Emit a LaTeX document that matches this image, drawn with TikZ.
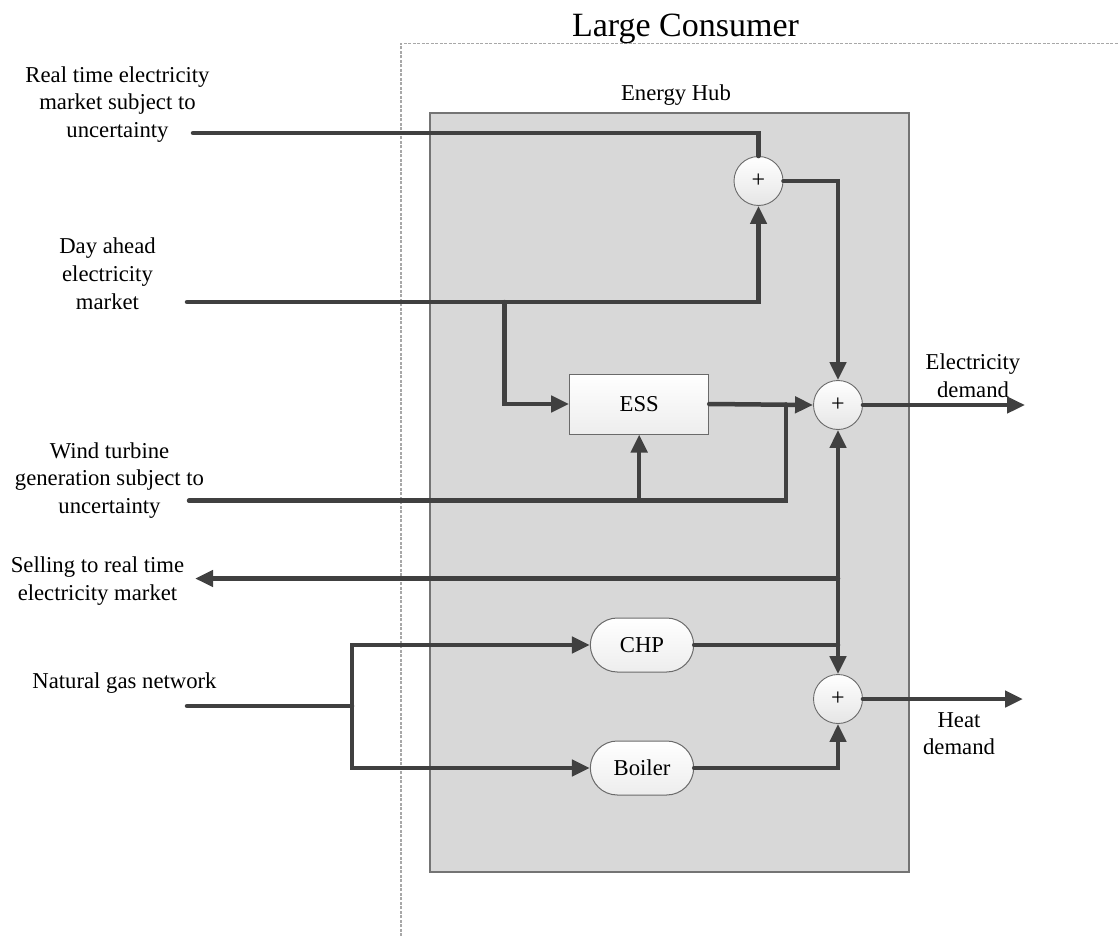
\documentclass[tikz,border=0pt]{standalone}
\usepackage{fontspec}
\setmainfont{Liberation Serif}
\usetikzlibrary{arrows.meta,shapes.misc}
\definecolor{ln}{HTML}{404040}
\definecolor{hubgray}{HTML}{D8D8D8}
\definecolor{hubedge}{HTML}{747474}
\definecolor{dashgray}{HTML}{A8A8A8}
\definecolor{boxedge}{HTML}{6A6A6A}
\newcommand\bodyfont{\fontsize{22.7}{27.6}\selectfont}
\newcommand\titlefont{\fontsize{34}{40}\selectfont}
\newcommand\plusfont{\fontsize{24}{24}\selectfont}
\begin{document}
\begin{tikzpicture}[x=1pt,y=-1pt,
  conn/.style={draw=ln,line width=4.5pt,line cap=round},
  arr/.style={conn,-{Triangle[length=18pt,width=16pt]}},
  txt/.style={font=\bodyfont,align=center,inner sep=0pt,text=black},
  sumnode/.style={circle,minimum size=49pt,inner sep=0pt,draw=boxedge,line width=0.9pt,
    top color=white,bottom color=black!10,font=\plusfont},
  essbox/.style={rectangle,minimum width=139pt,minimum height=60pt,draw=boxedge,line width=1pt,
    top color=white,bottom color=black!7,font=\bodyfont},
  unitbox/.style={rounded rectangle,minimum width=110pt,minimum height=54pt,draw=boxedge,line width=1pt,
    top color=white,bottom color=black!7,font=\bodyfont},
  hubbox/.style={rectangle,minimum width=479pt,minimum height=759pt,fill=hubgray,draw=hubedge,line width=1.4pt,inner sep=0pt}
]
\useasboundingbox (0,0) rectangle (1118,936);
\fill[white] (0,0) rectangle (1118,936);

% Large consumer boundary
\draw[dashgray,line width=1.3pt,dash pattern=on 3pt off 1.5pt] (401,945) -- (401,43.3) -- (1130,43.3);
\node[font=\titlefont,inner sep=0pt,anchor=base] (title) at (685.5,36.7) {Large Consumer};

% Energy hub
\node[hubbox] (hub) at (669.5,492.4) {};
\node[font=\bodyfont,inner sep=0pt,anchor=base] (hubL) at (676,101) {Energy Hub};

% blocks
\node[sumnode] (top) at (758.5,181) {+};
\node[sumnode] (elec) at (838,405) {+};
\node[sumnode] (heat) at (838,699) {+};
\node[essbox] (ess) at (639.2,404) {ESS};
\node[unitbox] (chp) at (642,645) {CHP};
\node[unitbox] (boiler) at (642,768) {Boiler};

% left labels
\node[txt] (rtL) at (117.5,104.5) {Real time electricity\\market subject to\\uncertainty};
\node[txt] (daL) at (107.5,273.8) {Day ahead\\electricity\\market};
\node[txt] (wtL) at (109.5,480.5) {Wind turbine\\generation subject to\\uncertainty};
\node[txt] (sellL) at (97.5,581) {Selling to real time\\electricity market};
\node[txt,anchor=base] (gasL) at (124.5,688.7) {Natural gas network};
% right labels
\node[txt] (elecL) at (973,375.5) {Electricity\\demand};
\node[txt] (heatL) at (959,733.5) {Heat\\demand};

% coordinates
\coordinate (rtS) at (193,133);
\coordinate (daS) at (187,302);
\coordinate (daB) at (504.5,302);
\coordinate (wtS) at (189,500.7);
\coordinate (wtB) at (639.2,500.7);
\coordinate (wtJ) at (786,404.5);
\coordinate (sellJ) at (838,578.5);
\coordinate (sellE) at (195,578.5);
\coordinate (chpJ) at (838,645);
\coordinate (gasS) at (187,706);
\coordinate (gasJ) at (352,706);
\coordinate (elecE) at (1025,405);
\coordinate (heatE) at (1023,699);

% connectors
\draw[conn] (rtS) -| (top.north);
\draw[arr] (daS) -| (top.south);
\draw[arr] (daB) |- (ess.west);
\draw[arr] (top.east) -| (elec.north);
\draw[arr] (ess.east) -- (elec.west);
\draw[conn] (wtS) -| (wtJ);
\draw[arr] (wtB) -- (ess.south);
\draw[arr] (sellJ) -- (sellE);
\draw[conn] (chp.east) -- (chpJ);
\draw[arr] (chpJ) -- (elec.south);
\draw[arr] (chpJ) -- (heat.north);
\draw[arr] (boiler.east) -| (heat.south);
\draw[arr] (elec.east) -- (elecE);
\draw[arr] (heat.east) -- (heatE);
\draw[conn] (gasS) -- (gasJ);
\draw[arr] (gasJ) |- (chp.west);
\draw[arr] (gasJ) |- (boiler.west);
\end{tikzpicture}
\end{document}
